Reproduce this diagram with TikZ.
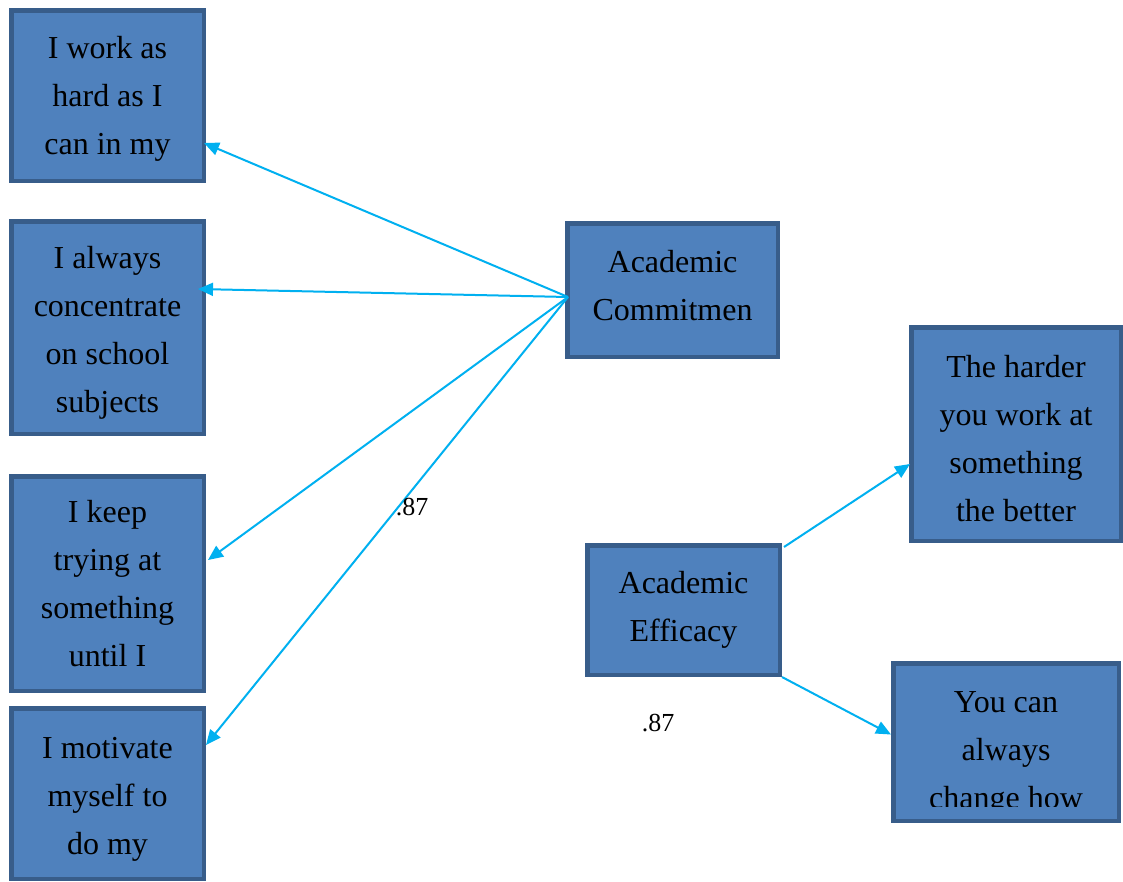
\documentclass[tikz,border=0pt]{standalone}
\usepackage{fontspec}
\setmainfont{Liberation Serif}
\usetikzlibrary{arrows.meta}
\definecolor{boxfill}{HTML}{4F81BD}
\definecolor{boxline}{HTML}{385D8A}
\definecolor{arrowblue}{HTML}{00B0F0}
\tikzset{
  itembox/.style={draw=boxline, fill=boxfill, line width=4.5pt, rectangle, inner sep=0pt,
    align=center, text=black, font=\fontsize{32pt}{48pt}\selectfont},
  arr/.style={draw=arrowblue, line width=2pt, -{Triangle[length=15pt,width=13pt]}},
  coef/.style={inner sep=0pt, font=\fontsize{26pt}{30pt}\selectfont}
}
\begin{document}
\begin{tikzpicture}[x=1pt, y=-1pt]
\useasboundingbox (0,0) rectangle (1123,881);
\fill[white] (0,0) rectangle (1123,881);
% left indicator boxes
\node[itembox, minimum width=192.5pt, minimum height=170.5pt] (b1) at (107.5,95.5) {\rule{0pt}{28pt}I work as\\hard as I\\can in my};
\node[itembox, minimum width=192.5pt, minimum height=212.5pt] (b2) at (107.5,327.5) {\rule{0pt}{33pt}I always\\concentrate\\on school\\subjects};
\node[itembox, minimum width=192.5pt, minimum height=214.5pt] (b3) at (107.5,583.5) {I keep\\trying at\\something\\until I};
\node[itembox, minimum width=192.5pt, minimum height=170.5pt] (b4) at (107.5,793.5) {\rule{0pt}{32pt}I motivate\\myself to\\do my};
% latent boxes
\node[itembox, minimum width=210.5pt, minimum height=133.5pt] (ac) at (672.5,290) {Academic\\Commitmen\rule[-10pt]{0pt}{10pt}};
\node[itembox, minimum width=192.5pt, minimum height=129.5pt] (ae) at (683.5,610) {Academic\\Efficacy};
% right indicator boxes
\node[itembox, minimum width=209.5pt, minimum height=213.5pt] (hd) at (1016,434) {\rule{0pt}{32pt}The harder\\you work at\\something\\the better};
\node[itembox, minimum width=225.5pt, minimum height=157.5pt] (yc) at (1006,742) {};
\begin{scope}
  \clip (896,666) rectangle (1116,806);
  \node[align=center, inner sep=0pt, font=\fontsize{32pt}{48pt}\selectfont] (yctext) at (1006,753) {You can\\always\\change how};
\end{scope}
% connectors
\draw[arr] ([shift={(3,7)}]ac.west) -- ([shift={(-2,47.5)}]b1.east);
\draw[arr] ([shift={(3,7)}]ac.west) -- ([shift={(-8,-38.5)}]b2.east);
\draw[arr] ([shift={(3,7)}]ac.west) -- ([shift={(2,-23.5)}]b3.east);
\draw[arr] ([shift={(3,7)}]ac.west) -- ([shift={(0,-48.5)}]b4.east);
\draw[arr] ([shift={(2,4)}]ae.north east) -- ([shift={(1,30)}]hd.west);
\draw[arr] (ae.south east) -- ([shift={(0,-7.5)}]yc.west);
% coefficients
\node[coef] (c1) at (412,507) {.87};
\node[coef] (c2) at (658,723) {.87};
\end{tikzpicture}
\end{document}
